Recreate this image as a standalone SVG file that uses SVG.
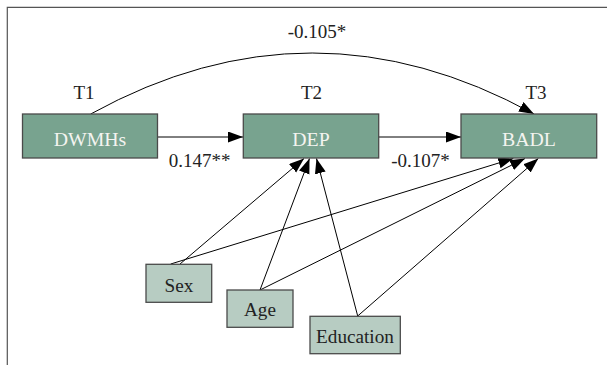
<svg xmlns="http://www.w3.org/2000/svg" width="607" height="365" viewBox="0 0 607 365">
<defs>
<marker id="ah" markerUnits="userSpaceOnUse" markerWidth="16" markerHeight="12" refX="15" refY="5.5" orient="auto">
<path d="M0,0 L15,5.5 L0,11 Z" fill="#000"/>
</marker>
<style>
.main rect{fill:#78a38f;stroke:#4a4a4a;stroke-width:1.3}
.main text{fill:#f4f4f0;font-family:"Liberation Serif",serif;font-size:19.8px;text-anchor:middle}
.cov rect{fill:#b7ccc2;stroke:#4a4a4a;stroke-width:1.3}
.cov text{fill:#222;font-family:"Liberation Serif",serif;font-size:19.2px;text-anchor:middle}
.lbl{fill:#222;font-family:"Liberation Serif",serif;font-size:19px;text-anchor:middle}
#connectors path{fill:none;stroke:#000;stroke-width:1;marker-end:url(#ah)}
</style>
</defs>
<rect width="607" height="365" fill="#fff"/>
<path d="M7.3,365 V7.3 H607" fill="none" stroke="#555" stroke-width="1.2"/>
<g id="connectors">
<path d="M90.7,114 Q312,-8 534,114"/>
<path d="M157.5,137 H243"/>
<path d="M378.7,137 H461"/>
<path d="M180,264 L304,158.5"/>
<path d="M170.7,264 L513.3,158.5"/>
<path d="M260,290 L309.5,158.5"/>
<path d="M260,290 L525,158.5"/>
<path d="M357.7,316 L316.5,158.5"/>
<path d="M357.7,316 L538.3,158.5"/>
</g>
<g id="DWMHs" class="main"><rect x="22.5" y="114" width="135" height="44"/><text x="90" y="146">DWMHs</text></g>
<g id="DEP" class="main"><rect x="243.3" y="114" width="135.4" height="44"/><text x="311" y="146">DEP</text></g>
<g id="BADL" class="main"><rect x="461" y="114" width="135.7" height="44"/><text x="529" y="146">BADL</text></g>
<g id="Sex" class="cov"><rect x="146" y="264.3" width="65.7" height="38"/><text x="179" y="292">Sex</text></g>
<g id="Age" class="cov"><rect x="227" y="290" width="66" height="37.3"/><text x="260" y="316">Age</text></g>
<g id="Education" class="cov"><rect x="310" y="316.3" width="90.3" height="37.4"/><text x="355" y="343">Education</text></g>
<g id="labels">
<text class="lbl" x="84" y="98.5">T1</text>
<text class="lbl" x="311.5" y="98.5">T2</text>
<text class="lbl" x="536" y="98.5">T3</text>
<text class="lbl" x="317" y="38">-0.105*</text>
<text class="lbl" x="199.5" y="167">0.147**</text>
<text class="lbl" x="420.5" y="166.5">-0.107*</text>
</g>
</svg>
